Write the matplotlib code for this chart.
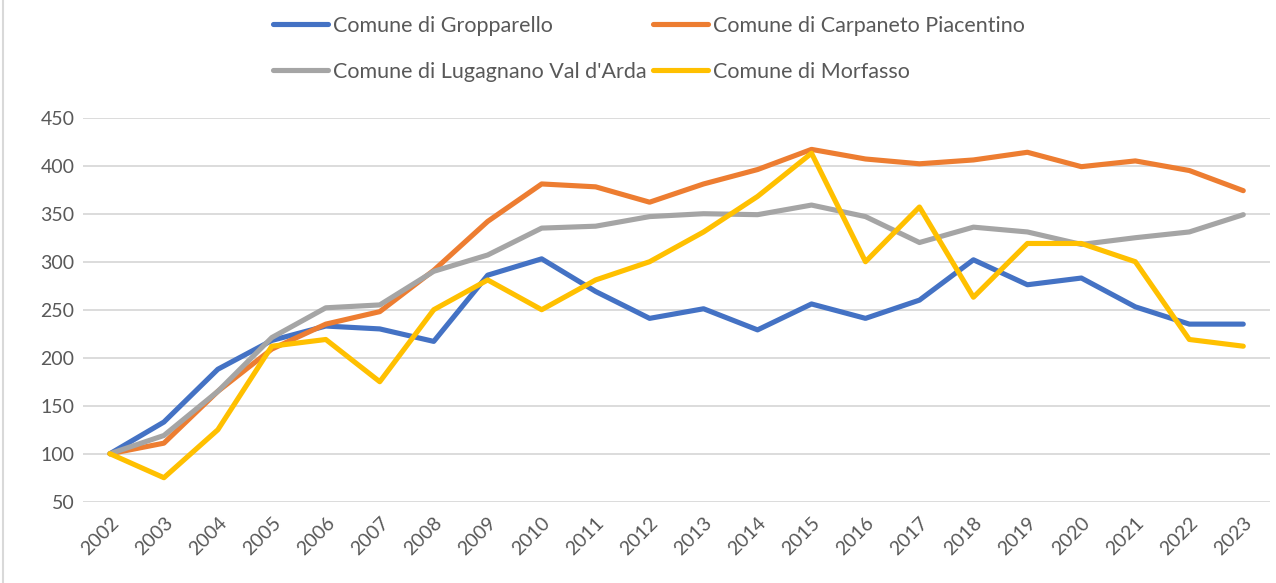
import numpy as np
import matplotlib.pyplot as plt
from matplotlib.lines import Line2D

plt.rcParams['font.family'] = ['Lato', 'DejaVu Sans']

anni = [str(a) for a in range(2002, 2024)]

gropparello = [100, 133, 188, 218, 233, 230, 217, 286, 303, 269, 241, 251,
               229, 256, 241, 260, 302, 276, 283, 253, 235, 235]
carpaneto = [100, 111, 165, 209, 235, 248, 291, 342, 381, 378, 362, 381,
             396, 417, 407, 402, 406, 414, 399, 405, 395, 374]
lugagnano = [100, 119, 165, 221, 252, 255, 290, 307, 335, 337, 347, 350,
             349, 359, 347, 320, 336, 331, 318, 325, 331, 349]
morfasso = [100, 75, 125, 212, 219, 175, 250, 281, 250, 281, 300, 331,
            368, 413, 300, 357, 263, 319, 319, 300, 219, 212]

serie = [("Comune di Gropparello", gropparello, "#4472C4"),
         ("Comune di Carpaneto Piacentino", carpaneto, "#ED7D31"),
         ("Comune di Lugagnano Val d'Arda", lugagnano, "#A5A5A5"),
         ("Comune di Morfasso", morfasso, "#FFC000")]

fig = plt.figure(figsize=(12.76, 5.83), dpi=100)
ax = fig.add_axes([0.065, 0.1394, 0.9305, 0.6587])

x = np.arange(len(anni))
linee = {}
for nome, val, col in serie:
    linee[nome], = ax.plot(x, val, color=col, lw=3.7, solid_capstyle="round",
                           solid_joinstyle="round", label=nome)

ax.set_xlim(-0.5, len(anni) - 0.5)
ax.set_ylim(50, 450)
ax.set_yticks(range(50, 451, 50))
ax.set_xticks(x)
ax.set_xticklabels(anni, rotation=45, ha="right", rotation_mode="anchor")
ax.tick_params(axis="both", length=0, labelsize=14, colors="#595959", pad=6)
ax.tick_params(axis="x", pad=9)
ax.grid(axis="y", color="#D9D9D9", lw=1.3)
ax.set_axisbelow(True)
for s in ax.spines.values():
    s.set_visible(False)

# ordine per riga come nella legenda di Excel
ordine = [serie[0][0], serie[2][0], serie[1][0], serie[3][0]]
fig.legend([linee[n] for n in ordine], ordine, ncol=2, loc="upper left",
           bbox_to_anchor=(0.199, 1.006), frameon=False, fontsize=15.5,
           handlelength=2.55, handletextpad=0.22, columnspacing=0.3,
           labelspacing=1.2, labelcolor="#595959")

fig.add_artist(Line2D([0.002, 0.002], [0, 1], color="#D9D9D9", lw=1.5,
                      transform=fig.transFigure))

fig.savefig("out.png", dpi=100)
